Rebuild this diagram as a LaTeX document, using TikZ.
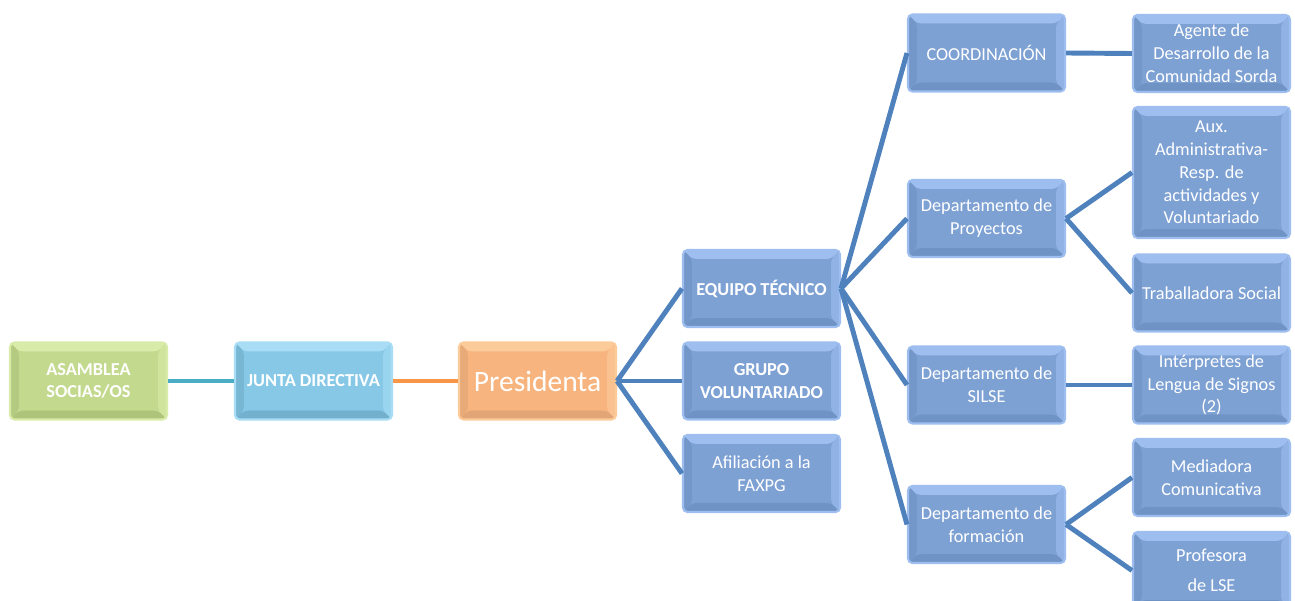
\documentclass[tikz,border=0pt]{standalone}
\usepackage{fontspec}
\setmainfont{Carlito}
\definecolor{bBase}{HTML}{7EA1D4}
\definecolor{bLight}{HTML}{9DBEEE}
\definecolor{bDark}{HTML}{7093C6}
\definecolor{gBase}{HTML}{C3D98E}
\definecolor{gLight}{HTML}{D8EBA8}
\definecolor{gDark}{HTML}{AEC47A}
\definecolor{cBase}{HTML}{86C8E6}
\definecolor{cLight}{HTML}{A8DDF5}
\definecolor{cDark}{HTML}{72B0CD}
\definecolor{oBase}{HTML}{F7B47F}
\definecolor{oLight}{HTML}{FCCB9A}
\definecolor{oDark}{HTML}{E2A575}
\definecolor{lnBlue}{HTML}{4F81BD}
\definecolor{lnTeal}{HTML}{4BACC6}
\definecolor{lnOrange}{HTML}{F79646}
\begin{document}
\begin{tikzpicture}[x=0.02cm,y=-0.02cm,
  bevel/.style n args={3}{fill=#1, draw=#2, line width=1.2pt, rounded corners=2.5pt,
    path picture={
      \fill[#2] (path picture bounding box.north west) -- (path picture bounding box.north east)
         -- ([shift={(-0.18cm,-0.18cm)}]path picture bounding box.north east)
         -- ([shift={(0.18cm,-0.18cm)}]path picture bounding box.north west) -- cycle;
      \fill[#2!60!#1] (path picture bounding box.north east) -- (path picture bounding box.south east)
         -- ([shift={(-0.18cm,0.18cm)}]path picture bounding box.south east)
         -- ([shift={(-0.18cm,-0.18cm)}]path picture bounding box.north east) -- cycle;
      \fill[#3] (path picture bounding box.south west) -- (path picture bounding box.south east)
         -- ([shift={(-0.18cm,0.18cm)}]path picture bounding box.south east)
         -- ([shift={(0.18cm,0.18cm)}]path picture bounding box.south west) -- cycle;
      \fill[#3!70!#1] (path picture bounding box.north west) -- (path picture bounding box.south west)
         -- ([shift={(0.18cm,0.18cm)}]path picture bounding box.south west)
         -- ([shift={(0.18cm,-0.18cm)}]path picture bounding box.north west) -- cycle;
      \fill[#1] ([shift={(0.18cm,-0.18cm)}]path picture bounding box.north west) rectangle
         ([shift={(-0.18cm,0.18cm)}]path picture bounding box.south east);
    }},
  box/.style={minimum width=3.14cm, minimum height=1.54cm, align=center, inner sep=0pt,
    text=white, font=\fontsize{10.4}{13}\selectfont},
  bluebox/.style={box, bevel={bBase}{bLight}{bDark}},
  ln/.style={line width=2.8pt, draw=lnBlue}
]
\useasboundingbox (0,0) rectangle (1295,601);

\node[box, bevel={gBase}{gLight}{gDark}, font=\fontsize{10.4}{13}\selectfont\bfseries] (asam) at (88.5,381) {ASAMBLEA\\SOCIAS/OS};
\node[box, bevel={cBase}{cLight}{cDark}, font=\fontsize{10.4}{13}\selectfont\bfseries] (junta) at (313.5,381) {JUNTA DIRECTIVA};
\node[box, bevel={oBase}{oLight}{oDark}, font=\fontsize{16.8}{19}\selectfont] (pres) at (537.5,381) {Presidenta};

\node[bluebox, font=\fontsize{10.4}{13}\selectfont\bfseries] (eq) at (761.5,288.5) {EQUIPO TÉCNICO};
\node[bluebox, font=\fontsize{10.4}{13}\selectfont\bfseries] (grupo) at (761.5,381) {GRUPO\\VOLUNTARIADO};
\node[bluebox] (afil) at (761.5,473.5) {Afiliación a la\\FAXPG};

\node[bluebox] (coord) at (986.5,53) {COORDINACIÓN};
\node[bluebox] (proy) at (986.5,218.5) {Departamento de\\Proyectos};
\node[bluebox] (silse) at (986.5,385) {Departamento de\\SILSE};
\node[bluebox] (form) at (986.5,524.5) {Departamento de\\formación};

\node[bluebox] (agente) at (1211.5,53.5) {Agente de\\Desarrollo de la\\Comunidad Sorda};
\node[bluebox, minimum height=2.62cm] (aux) at (1211.5,172.5) {Aux.\\Administrativa-\\Resp. de\\actividades y\\Voluntariado};
\node[bluebox] (trab) at (1211.5,293) {Traballadora Social};
\node[bluebox] (interp) at (1211.5,385) {Intérpretes de\\Lengua de Signos\\(2)};
\node[bluebox] (medi) at (1211.5,477.5) {Mediadora\\Comunicativa};
\node[bluebox] (prof) at (1211.5,570.5) {Profesora\\[4pt]de LSE};

\draw[line width=2.8pt, lnTeal] (asam.east) -- (junta.west);
\draw[line width=2.8pt, lnOrange] (junta.east) -- (pres.west);
\draw[ln] (pres.east) -- (eq.west);
\draw[ln] (pres.east) -- (grupo.west);
\draw[ln] (pres.east) -- (afil.west);
\draw[ln] (eq.east) -- (coord.west);
\draw[ln] (eq.east) -- (proy.west);
\draw[ln] (eq.east) -- (silse.west);
\draw[ln] (eq.east) -- (form.west);
\draw[ln] (coord.east) -- (agente.west);
\draw[ln] (proy.east) -- (aux.west);
\draw[ln] (proy.east) -- (trab.west);
\draw[ln] (silse.east) -- (interp.west);
\draw[ln] (form.east) -- (medi.west);
\draw[ln] (form.east) -- (prof.west);
\end{tikzpicture}
\end{document}
